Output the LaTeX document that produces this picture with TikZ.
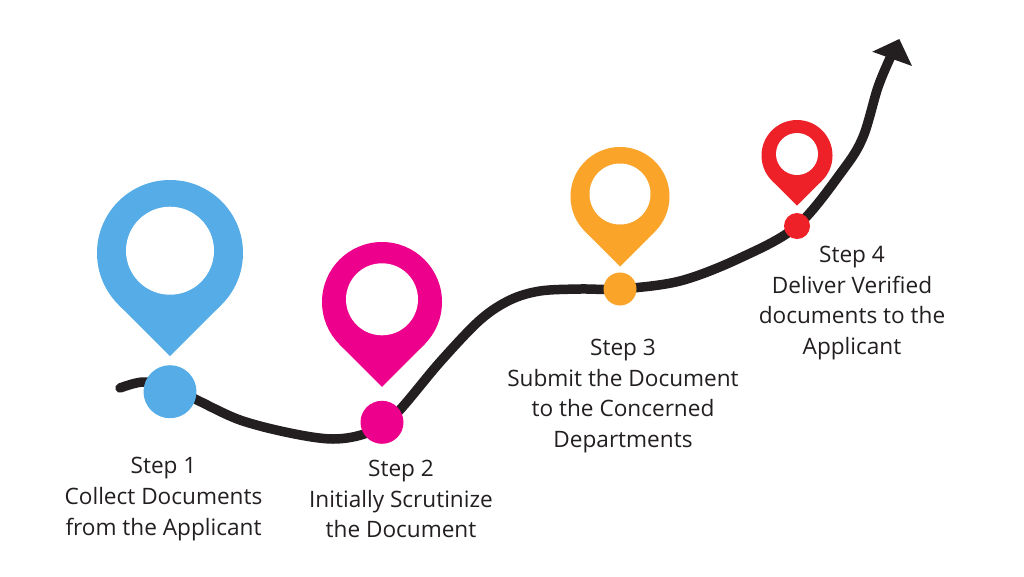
\documentclass[tikz,border=0pt]{standalone}
\usepackage{fontspec}
\setmainfont{Open Sans}
\definecolor{cblue}{HTML}{55ACE6}
\definecolor{cpink}{HTML}{EC008C}
\definecolor{corange}{HTML}{FAA42A}
\definecolor{cred}{HTML}{EE2128}
\definecolor{cpath}{HTML}{231F20}
\tikzset{x=1pt,y=-1pt,
 lbl/.style={align=center,font=\fontsize{22.6}{30.6}\selectfont,text=cpath,inner sep=0pt},
 dot/.style={circle,inner sep=0pt,draw=none},
 hole/.style={circle,fill=white,inner sep=0pt,draw=none}}
\newcommand{\pin}[4]{% cx, cy, R, colour
 \pgfmathsetmacro{\pd}{0.7071*#3}
 \pgfmathsetmacro{\pt}{1.4142*#3}
 \fill[#4] (#1,#2) circle[radius=#3];
 \fill[#4] ({#1-\pd},{#2+\pd}) -- ({#1},{#2+\pt}) -- ({#1+\pd},{#2+\pd}) -- ({#1},{#2}) -- cycle;
}
\begin{document}
\begin{tikzpicture}
\useasboundingbox[fill=white] (0,0) rectangle (1024,576);
\draw[cpath,line width=9.5pt,line cap=round,line join=round] plot[smooth,tension=0.55] coordinates {
 (120,388) (143,382) (170,387) (197,400) (240,420) (290,433) (333,439) (367,433) (395,415) (440,362) (480,320) (510,300) (540,291) (580,289) (620,289) (680,281) (740,258) (797,226) (843,170) (863,137) (878,87) (891,56)};
\fill[cpath] (912,66) -- (899.3,39) -- (872.3,51.7) -- cycle;
\pin{170}{253}{73}{cblue}
\pin{382}{302}{60}{cpink}
\pin{620}{196.5}{49.5}{corange}
\pin{797}{155.5}{35.5}{cred}
\node[hole,minimum size=88pt] (h1) at (170,250.7) {};
\node[hole,minimum size=72pt] (h2) at (382,299.3) {};
\node[hole,minimum size=61pt] (h3) at (620,194) {};
\node[hole,minimum size=42pt] (h4) at (797,154) {};
\node[dot,fill=cblue,minimum size=53pt] (d1) at (170,391.7) {};
\node[dot,fill=cpink,minimum size=43pt] (d2) at (382,422.3) {};
\node[dot,fill=corange,minimum size=33pt] (d3) at (620,289) {};
\node[dot,fill=cred,minimum size=26pt] (d4) at (797,226) {};
\node[lbl] (t1) at (163.5,499) {Step 1\\Collect Documents\\from the Applicant};
\node[lbl] (t2) at (401,499) {Step 2\\Initially Scrutinize\\the Document};
\node[lbl] (t3) at (623,396) {Step 3\\Submit the Document\\to the Concerned\\Departments};
\node[lbl] (t4) at (852,303) {Step 4\\Deliver Verified\\documents to the\\Applicant};
\end{tikzpicture}
\end{document}
